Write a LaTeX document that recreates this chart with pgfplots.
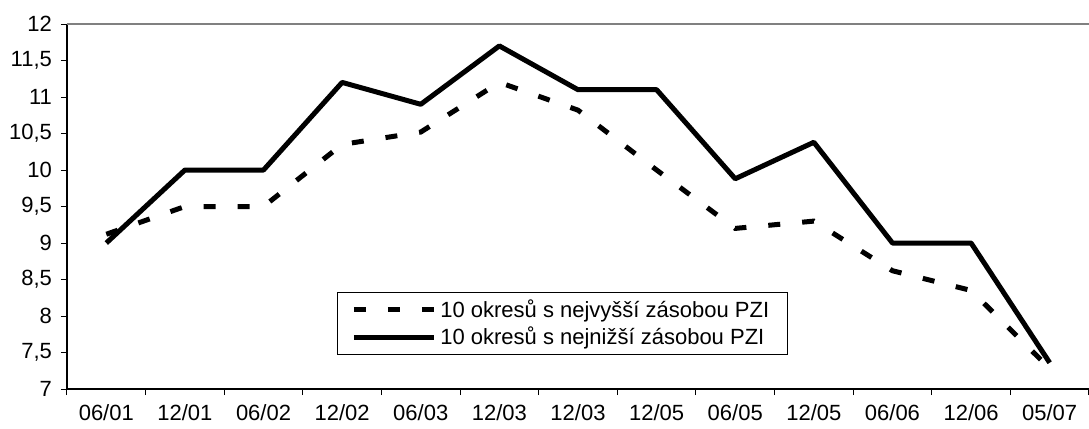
\documentclass[border=0pt]{standalone}
\usepackage{fontspec}
\setmainfont{Liberation Sans}
\usepackage{pgfplots}
\pgfplotsset{compat=1.18}

% values
\pgfplotstableread{
x    hi    lo
0.5  9.12  9.0
1.5  9.5   10.0
2.5  9.5   10.0
3.5  10.35 11.2
4.5  10.52 10.9
5.5  11.2  11.7
6.5  10.82 11.1
7.5  10.0  11.1
8.5  9.2   9.88
9.5  9.3   10.38
10.5 8.62  9.0
11.5 8.35  9.0
12.5 7.28  7.36
}\datatable

\begin{document}
\begin{tikzpicture}
\begin{axis}[
  at={(0pt,0pt)}, anchor=origin,
  scale only axis, width=511pt, height=182.5pt,
  xmin=0, xmax=13, ymin=7, ymax=12,
  axis x line*=bottom, axis y line*=left,
  axis line style={black, line width=0.6pt},
  tick align=outside,
  xtick={0.5,1.5,...,12.5},
  xticklabels={06/01,12/01,06/02,12/02,06/03,12/03,12/03,12/05,06/05,12/05,06/06,12/06,05/07},
  minor xtick={0,1,...,13},
  major x tick style={draw=none},
  minor tick length=3pt,
  ytick={7,7.5,...,12},
  major tick length=3pt,
  tick style={black, line width=0.5pt},
  ticklabel style={font=\fontsize{11}{13}\selectfont},
  /pgf/number format/assume math mode=true,
  /pgf/number format/use comma,
  xticklabel style={yshift=-1pt},
  yticklabel style={xshift=-1pt},
  legend style={at={(0.264,0.266)}, anchor=north west, draw=black, line width=0.5pt,
    font=\fontsize{11}{13}\selectfont, inner xsep=7pt, inner ysep=1.5pt,
    row sep=-0.5pt, cells={anchor=west}},
  legend image code/.code={\draw[#1] (0pt,0pt) -- (40pt,0pt);},
  clip=false,
]
\addplot[black, line width=2.5pt, dash pattern=on 6pt off 11pt] table[x=x, y=hi] {\datatable};
\addlegendentry{10 okresů s nejvyšší zásobou PZI}
\addplot[black, line width=2.5pt, line join=round] table[x=x, y=lo] {\datatable};
\addlegendentry{10 okresů s nejnižší zásobou PZI}
\draw[gray, line width=0.6pt] (rel axis cs:0,1) -- (rel axis cs:1,1);
\end{axis}
\pgfresetboundingbox
\path (-33.5pt,-20pt) rectangle (511pt,194.5pt);
\end{tikzpicture}
\end{document}
